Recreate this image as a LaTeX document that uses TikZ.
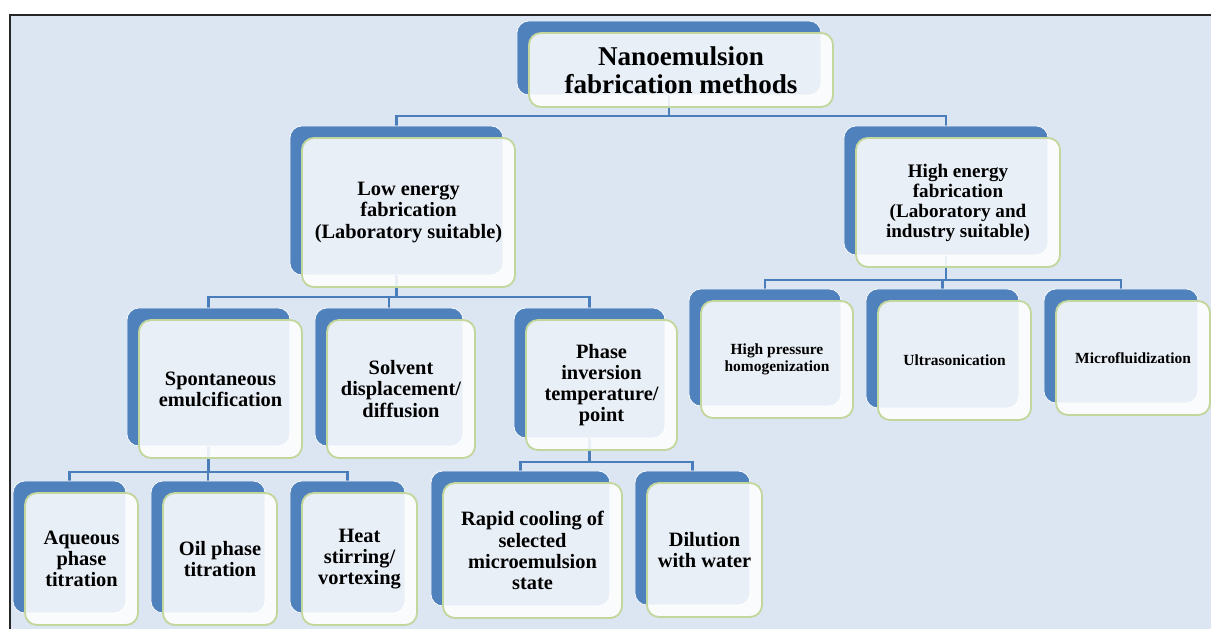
\documentclass[tikz,border=0pt]{standalone}
\usepackage{fontspec}
\setmainfont{Liberation Serif}
\usetikzlibrary{calc, backgrounds}
\definecolor{pagebg}{RGB}{220,230,242}
\definecolor{backblue}{RGB}{79,129,189}
\definecolor{cardgreen}{RGB}{195,214,155}
\definecolor{linkblue}{RGB}{74,126,187}
\tikzset{
card/.style = {rectangle, rounded corners=3mm, draw=cardgreen, line width=1.3pt, fill=white, fill opacity=0.88, text opacity=1, align=center, inner sep=1pt, preaction={fill=backblue, fill opacity=1, draw=white, line width=0.5pt, transform canvas={xshift=-3mm, yshift=3mm}}},
rootcard/.style = {card, font=\fontsize{19.3}{20}\selectfont\bfseries},
groupcard/.style = {card, font=\fontsize{14.5}{15}\selectfont\bfseries},
highcard/.style = {card, font=\fontsize{13.6}{14.2}\selectfont\bfseries},
toolcard/.style = {card, font=\fontsize{11}{12.5}\selectfont\bfseries},
link/.style = {draw=linkblue, line width=1.8pt}
}

\begin{document}
\begin{tikzpicture}[x=0.025cm, y=-0.025cm]

\useasboundingbox (0,0) rectangle (1211,629);
\begin{scope}[on background layer]
\fill[white] (0,0) rectangle (1211,629);
\fill[pagebg] (10,15) rectangle (1211,629);
\draw[black!85, line width=1.4pt] (10,629) -- (10,15) -- (1211,15);
\end{scope}

% top of the tree
\node (root) [rootcard, minimum width=7.6cm, minimum height=1.85cm] at (681,70) {Nanoemulsion\\fabrication methods};

% two families
\node (low) [groupcard, minimum width=5.325cm, minimum height=3.725cm] at (408.5,212.5) {Low energy\\fabrication\\(Laboratory suitable)};
\node (high) [highcard, minimum width=5.1cm, minimum height=3.225cm] at (958,202.5) {High energy\\fabrication\\(Laboratory and\\industry suitable)};

% low energy methods
\node (spont) [groupcard, minimum width=4.075cm, minimum height=3.45cm] at (220.5,389) {Spontaneous\\emulcification};
\node (solvent) [groupcard, minimum width=3.7cm, minimum height=3.45cm] at (401,389) {Solvent\\displacement/\\diffusion};
\node (pit) [groupcard, minimum width=3.775cm, minimum height=3.25cm] at (601.5,385) {Phase\\inversion\\temperature/\\point};

% high energy methods
\node (hph) [toolcard, minimum width=3.8cm, minimum height=2.925cm] at (777,359.5) {High pressure\\homogenization};
\node (ultra) [toolcard, minimum width=3.825cm, minimum height=2.975cm] at (954.5,360.5) {Ultrasonication};
\node (micro) [toolcard, minimum width=3.85cm, minimum height=2.85cm] at (1133,358) {Microfluidization};

% spontaneous emulsification routes
\node (aqueous) [groupcard, minimum width=2.825cm, minimum height=3.3cm] at (81.5,559) {Aqueous\\phase\\titration};
\node (oil) [groupcard, minimum width=2.85cm, minimum height=3.3cm] at (220,559) {Oil phase\\titration};
\node (heat) [groupcard, minimum width=2.875cm, minimum height=3.3cm] at (359.5,559) {Heat\\stirring/\\vortexing};

% phase inversion routes
\node (rapid) [groupcard, minimum width=4.475cm, minimum height=3.375cm] at (532.5,550.5) {Rapid cooling of\\selected\\microemulsion\\state};
\node (dilution) [groupcard, minimum width=2.875cm, minimum height=3.35cm] at (704.5,550) {Dilution\\with water};

\coordinate (j0) at (669,116);
\coordinate (j1) at (396.5,297);
\coordinate (j2) at (946,280);
\coordinate (j3) at (208.5,472);
\coordinate (j4) at (589.5,462);

\begin{scope}[on background layer]
\draw[link] ($(root)+(-12,0)$) -- (j0);
\draw[link] (j0) -| ($(low)+(-12,0)$);
\draw[link] (j0) -| ($(high)+(-12,0)$);

\draw[link] ($(low)+(-12,0)$) -- (j1);
\draw[link] (j1) -| ($(spont)+(-12,0)$);
\draw[link] (j1) -| ($(solvent)+(-12,0)$);
\draw[link] (j1) -| ($(pit)+(-12,0)$);

\draw[link] ($(high)+(-12,0)$) -- (j2);
\draw[link] (j2) -| ($(hph)+(-12,0)$);
\draw[link] (j2) -| ($(ultra)+(-12,0)$);
\draw[link] (j2) -| ($(micro)+(-12,0)$);

\draw[link] ($(spont)+(-12,0)$) -- (j3);
\draw[link] (j3) -| ($(aqueous)+(-12,0)$);
\draw[link] (j3) -| ($(oil)+(-12,0)$);
\draw[link] (j3) -| ($(heat)+(-12,0)$);

\draw[link] ($(pit)+(-12,0)$) -- (j4);
\draw[link] (j4) -| ($(rapid)+(-12,0)$);
\draw[link] (j4) -| ($(dilution)+(-12,0)$);
\end{scope}

\end{tikzpicture}
\end{document}
